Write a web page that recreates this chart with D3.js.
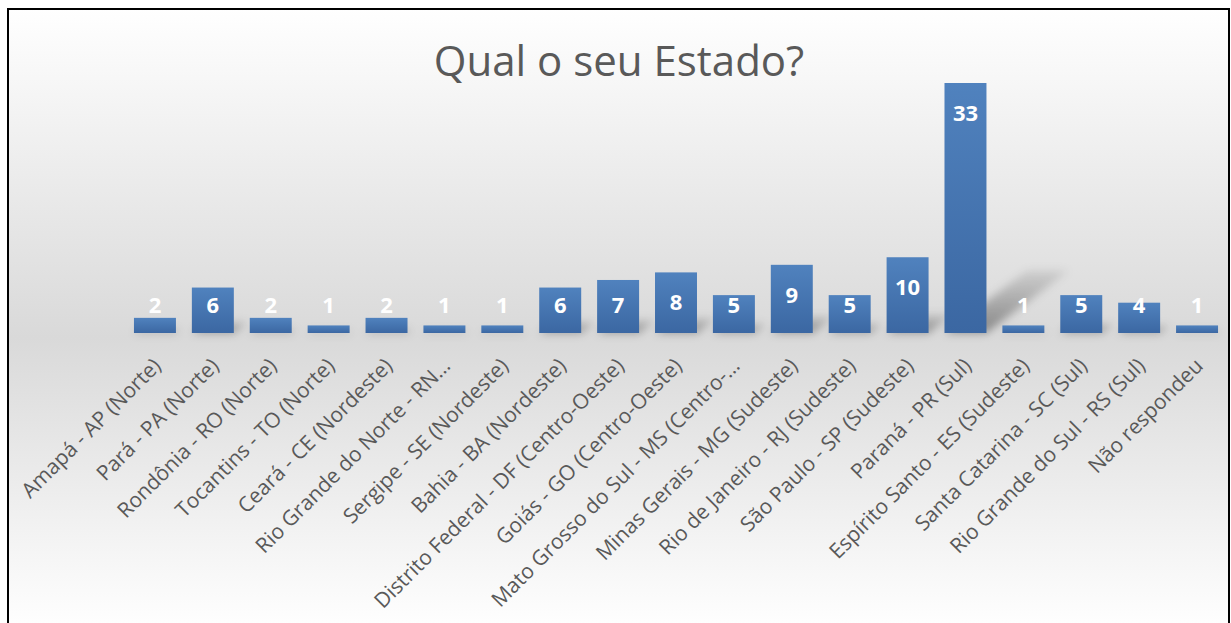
<!DOCTYPE html>
<html>
<head>
<meta charset="utf-8">
<script src="https://cdn.jsdelivr.net/npm/d3@7"></script>
<style>
  html, body { margin: 0; padding: 0; background: #fff; }
  svg { display: block; }
</style>
</head>
<body>
<script>
// chart data
const categories = [
  'Amapá - AP (Norte)',
  'Pará - PA (Norte)',
  'Rondônia - RO (Norte)',
  'Tocantins - TO (Norte)',
  'Ceará - CE (Nordeste)',
  'Rio Grande do Norte - RN…',
  'Sergipe - SE (Nordeste)',
  'Bahia - BA (Nordeste)',
  'Distrito Federal - DF (Centro-Oeste)',
  'Goiás - GO  (Centro-Oeste)',
  'Mato Grosso do Sul - MS (Centro-…',
  'Minas Gerais - MG (Sudeste)',
  'Rio de Janeiro - RJ (Sudeste)',
  'São Paulo - SP (Sudeste)',
  'Paraná - PR (Sul)',
  'Espírito Santo - ES (Sudeste)',
  'Santa Catarina - SC (Sul)',
  'Rio Grande do Sul - RS (Sul)',
  'Não respondeu'
];
const values = [2, 6, 2, 1, 2, 1, 1, 6, 7, 8, 5, 9, 5, 10, 33, 1, 5, 4, 1];
const title = 'Qual o seu Estado?';

const width = 1231;
const height = 623;
const baseY = 333;

const data = categories.map((c, i) => ({ name: c, value: values[i] }));

const svg = d3.select('body').append('svg')
  .attr('width', width)
  .attr('height', height);

const defs = svg.append('defs');

// background gradient: white -> grey -> white
const bg = defs.append('linearGradient')
  .attr('id', 'bg')
  .attr('x1', 0).attr('y1', 0).attr('x2', 0).attr('y2', 1);
bg.append('stop').attr('offset', '0%').attr('stop-color', '#ffffff');
bg.append('stop').attr('offset', '53%').attr('stop-color', '#d9d9d9');
bg.append('stop').attr('offset', '100%').attr('stop-color', '#ffffff');

// bar fill
const barGrad = defs.append('linearGradient')
  .attr('id', 'bar')
  .attr('x1', 0).attr('y1', 0).attr('x2', 0).attr('y2', 1);
barGrad.append('stop').attr('offset', '0%').attr('stop-color', '#5082be');
barGrad.append('stop').attr('offset', '100%').attr('stop-color', '#3b67a2');

// perspective shadow, fades towards the tip
const shGrad = defs.append('linearGradient')
  .attr('id', 'shadow')
  .attr('x1', 0).attr('y1', 1).attr('x2', 0).attr('y2', 0);
shGrad.append('stop').attr('offset', '0%').attr('stop-color', '#000').attr('stop-opacity', 0.38);
shGrad.append('stop').attr('offset', '100%').attr('stop-color', '#000').attr('stop-opacity', 0.08);

defs.append('filter')
  .attr('id', 'blur')
  .attr('x', '-50%').attr('y', '-50%').attr('width', '200%').attr('height', '200%')
  .append('feGaussianBlur').attr('stdDeviation', 4);

// chart area
svg.append('rect')
  .attr('x', 8).attr('y', 9)
  .attr('width', 1221).attr('height', 620)
  .attr('fill', 'url(#bg)')
  .attr('stroke', '#000')
  .attr('stroke-width', 2);

// scales
const x = d3.scaleBand()
  .domain(categories)
  .range([126, 1226])
  .paddingInner(0.275)
  .paddingOuter(0.1375);

const y = d3.scaleLinear()
  .domain([0, 33])
  .range([baseY, 83]);

// title
svg.append('text')
  .attr('x', 619)
  .attr('y', 76)
  .attr('text-anchor', 'middle')
  .style('font-family', '"Open Sans", sans-serif')
  .style('font-weight', 400)
  .style('font-size', '42px')
  .style('fill', '#595959')
  .text(title);

// shadows cast up and to the right
svg.append('g')
  .attr('filter', 'url(#blur)')
  .selectAll('path')
  .data(data)
  .enter().append('path')
  .attr('fill', 'url(#shadow)')
  .attr('d', (d) => {
    const x0 = x(d.name);
    const x1 = x0 + x.bandwidth();
    const h = y(0) - y(d.value);
    const dx = h * 0.33;
    const dy = h * 0.25;
    return `M ${x0},${y(0)} L ${x1},${y(0)} L ${x1 + dx},${y(0) - dy} L ${x0 + dx},${y(0) - dy} Z`;
  });

// bars
svg.append('g')
  .selectAll('rect')
  .data(data)
  .enter().append('rect')
  .attr('x', (d) => x(d.name))
  .attr('y', (d) => y(d.value))
  .attr('width', x.bandwidth())
  .attr('height', (d) => y(0) - y(d.value))
  .attr('fill', 'url(#bar)');

// value labels
svg.append('g')
  .selectAll('text')
  .data(data)
  .enter().append('text')
  .attr('x', (d) => x(d.name) + x.bandwidth() / 2)
  .attr('y', (d) => Math.min(y(d.value) + 30, 305) + 8)
  .attr('text-anchor', 'middle')
  .style('font-family', '"Open Sans", sans-serif')
  .style('font-weight', 700)
  .style('font-size', '22px')
  .style('fill', '#ffffff')
  .text((d) => d.value);

// category labels, rotated
const xAxis = svg.append('g')
  .attr('transform', `translate(0,${baseY})`)
  .call(d3.axisBottom(x).tickSize(0).tickPadding(0));

xAxis.select('.domain').remove();

xAxis.selectAll('text')
  .attr('x', 0)
  .attr('y', 0)
  .attr('dy', '0.35em')
  .attr('transform', 'translate(2,29) rotate(-45)')
  .style('text-anchor', 'end')
  .style('font-family', '"Open Sans", sans-serif')
  .style('font-size', '21px')
  .style('fill', '#595959');
</script>
</body>
</html>
